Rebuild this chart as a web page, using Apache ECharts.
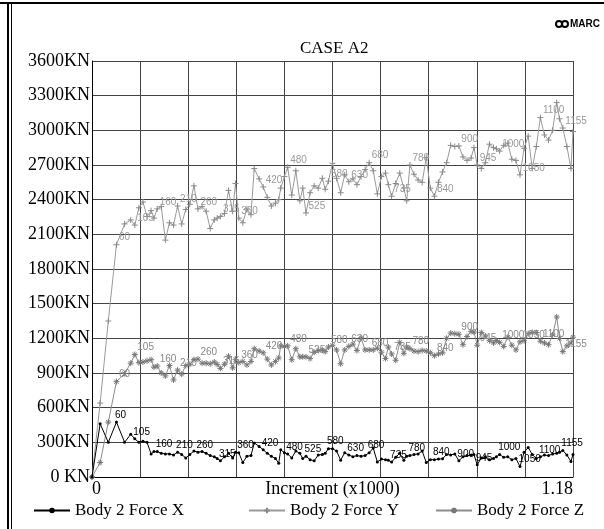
<!DOCTYPE html>
<html>
<head>
<meta charset="utf-8">
<script src="https://cdn.jsdelivr.net/npm/echarts@6/dist/echarts.min.js"></script>
<style>
html, body { margin: 0; padding: 0; background: #fff; }
#chart { width: 604px; height: 529px; }
</style>
</head>
<body>
<div id="chart"></div>
<script>
// increment numbers of the plotted points (x axis shows increment / 1000)
var increments = [
  0, 20, 40, 60, 80, 95, 105, 115, 125, 135,
  145, 152, 160, 170, 180, 190, 200, 210, 220, 230,
  240, 250, 260, 270, 280, 290, 300, 307, 315, 325,
  335, 345, 352, 360, 370, 380, 390, 398, 410, 420,
  430, 440, 450, 458, 463, 472, 480, 490, 500, 510,
  517, 525, 535, 545, 555, 565, 572, 580, 590, 600,
  610, 620, 630, 640, 650, 660, 670, 680, 690, 700,
  710, 720, 727, 735, 745, 755, 765, 772, 780, 790,
  800, 810, 820, 830, 840, 850, 860, 870, 880, 890,
  900, 910, 920, 930, 937, 945, 955, 965, 975, 985,
  992, 1000, 1010, 1020, 1030, 1040, 1050, 1060, 1070, 1080,
  1090, 1100, 1110, 1120, 1130, 1140, 1147, 1155, 1165, 1175,
  1180
];

var forceX = [
  0, 460, 300, 475, 300, 370, 330, 300, 310, 300,
  200, 220, 220, 205, 200, 200, 190, 215, 195, 165,
  195, 225, 215, 220, 205, 185, 175, 160, 140, 175,
  205, 165, 215, 210, 125, 180, 185, 295, 265, 235,
  205, 180, 160, 120, 235, 210, 200, 165, 225, 205,
  160, 180, 150, 140, 190, 195, 205, 245, 245, 225,
  145, 210, 190, 176, 185, 180, 185, 210, 250, 130,
  155, 150, 145, 130, 170, 205, 145, 180, 185, 195,
  200, 225, 125, 150, 150, 155, 158, 195, 190, 200,
  140, 175, 185, 190, 195, 105, 165, 175, 150, 160,
  175, 195, 170, 175, 150, 160, 90, 215, 255, 195,
  160, 175, 190, 185, 200, 205, 215, 230, 190, 135,
  195
];

var forceY = [
  0, 640, 1350, 2010, 2190, 2225, 2180, 2330, 2380, 2255,
  2305, 2240, 2320, 2340, 2050, 2200, 2180, 2345, 2190, 2315,
  2360, 2520, 2320, 2340, 2300, 2150, 2225, 2240, 2255, 2280,
  2480, 2300, 2540, 2240, 2200, 2320, 2270, 2670, 2580, 2510,
  2420, 2345, 2370, 2400, 2500, 2600, 2680, 2440, 2650, 2390,
  2500, 2285, 2460, 2520, 2500, 2585, 2490, 2560, 2715, 2585,
  2460, 2615, 2555, 2580, 2530, 2600, 2660, 2720, 2650, 2450,
  2600, 2630, 2530, 2430, 2540, 2630, 2500, 2390, 2700, 2620,
  2570, 2550, 2765, 2500, 2430, 2550, 2640, 2720, 2870, 2860,
  2865, 2770, 2740, 2760, 2850, 2700, 2670, 2720, 2880, 2850,
  2840, 2820, 2870, 2890, 2750, 2740, 2615, 2845, 2950, 2670,
  2860, 3110, 2960, 2915, 3000, 3240, 3100, 3020, 2860, 2670,
  2990
];

var forceZ = [
  0, 125, 475, 825, 895, 985, 1060, 990, 995, 1005,
  1015, 950, 960, 900, 875, 965, 840, 925, 890, 965,
  975, 1015, 1020, 985, 985, 980, 995, 975, 940, 975,
  1045, 945, 1015, 990, 1000, 970, 1000, 1110, 1090, 1075,
  1020, 970, 1000, 1030, 1135, 1130, 1135, 1015, 1110, 1040,
  1040, 1040, 1025, 1080, 1095, 1100, 1085, 1125, 1140, 1100,
  980, 1100, 1130, 1150, 1095, 1205, 1100, 1100, 1100, 1115,
  1080, 1025, 1125, 1065, 1010, 1165, 1070, 1125, 1110, 1090,
  1085, 1095, 1090, 1075, 1050, 1065, 1075, 1200, 1245, 1240,
  1235, 1145, 1215, 1260, 1255, 1140, 1250, 1220, 1180, 1160,
  1180, 1165, 1130, 1210, 1140, 1100, 1170, 1180, 1240, 1250,
  1250, 1175, 1160, 1145, 1230, 1385, 1200, 1085, 1135, 1160,
  1210
];

// increments that carry a number label on the curves
var labelIncrements = [60, 105, 160, 210, 260, 315, 360, 420, 480, 525, 580,
  630, 680, 735, 780, 840, 900, 945, 1000, 1050, 1100, 1155];

var seriesNames = ['Body 2 Force X', 'Body 2 Force Y', 'Body 2 Force Z'];

var serif = 'Liberation Serif';

function buildData(values) {
  return increments.map(function (inc, i) {
    return {
      value: [inc, values[i]],
      label: { show: labelIncrements.indexOf(inc) >= 0 }
    };
  });
}

function pointLabel(color) {
  return {
    color: color,
    fontFamily: 'Liberation Sans',
    fontSize: 10,
    position: 'right',
    distance: 0,
    offset: [-3, -7],
    formatter: function (p) { return p.value[0]; }
  };
}

var plusPath = 'path://M0,5L10,5M5,0L5,10';
var starPath = 'path://M0,5L10,5M5,0L5,10M1.5,1.5L8.5,8.5M8.5,1.5L1.5,8.5';

var chart = echarts.init(document.getElementById('chart'));

var legendBase = {
  orient: 'horizontal',
  top: 497,
  itemWidth: 36,
  itemHeight: 7,
  itemGap: 6,
  textStyle: { fontFamily: serif, fontSize: 17, color: '#000' }
};

var option = {
  animation: false,
  backgroundColor: '#fff',
  title: {
    text: 'CASE A2',
    left: 295,
    top: 35,
    textStyle: { fontFamily: serif, fontSize: 17, fontWeight: 'normal', color: '#000' }
  },
  legend: [
    Object.assign({}, legendBase, { data: [seriesNames[0]], left: 28 }),
    Object.assign({}, legendBase, { data: [seriesNames[1]], left: 243 }),
    Object.assign({}, legendBase, { data: [seriesNames[2]], left: 430 })
  ],
  grid: { left: 92, right: 31, top: 61, bottom: 52 },
  xAxis: {
    type: 'value',
    min: 0,
    max: 1180,
    interval: 118,
    name: 'Increment (x1000)',
    nameLocation: 'middle',
    nameGap: 3,
    nameMoveOverlap: false,
    nameTextStyle: { fontFamily: serif, fontSize: 18, color: '#000', verticalAlign: 'top' },
    axisLine: { show: true, lineStyle: { color: '#000', width: 1 } },
    axisTick: { show: false },
    splitLine: { show: true, lineStyle: { color: '#444', width: 1 } },
    axisLabel: {
      margin: 3,
      fontFamily: serif,
      fontSize: 18,
      color: '#000',
      alignMinLabel: 'left',
      alignMaxLabel: 'right',
      formatter: function (v) {
        if (v === 0) return '0';
        if (v === 1180) return '1.18';
        return '';
      }
    }
  },
  yAxis: {
    type: 'value',
    min: 0,
    max: 3600,
    interval: 300,
    axisLine: { show: true, lineStyle: { color: '#000', width: 1 } },
    axisTick: { show: false },
    splitLine: { show: true, lineStyle: { color: '#444', width: 1 } },
    axisLabel: {
      margin: 2,
      fontFamily: serif,
      fontSize: 18,
      color: '#000',
      formatter: function (v) { return v === 0 ? '0 KN' : v + 'KN'; }
    }
  },
  graphic: [
    { type: 'rect', shape: { x: 0, y: 2, width: 604, height: 2 }, style: { fill: '#000' } },
    { type: 'rect', shape: { x: 7, y: 2, width: 2, height: 527 }, style: { fill: '#000' } },
    { type: 'rect', shape: { x: 11, y: 2, width: 1, height: 527 }, style: { fill: '#000' } },
    { type: 'circle', shape: { cx: 559, cy: 24, r: 3 }, style: { fill: 'none', stroke: '#000', lineWidth: 2 } },
    { type: 'circle', shape: { cx: 565, cy: 24, r: 3 }, style: { fill: 'none', stroke: '#000', lineWidth: 2 } },
    { type: 'text', x: 570, y: 19, style: { text: 'MARC', font: 'bold 10px "Liberation Sans"', fill: '#000' } }
  ],
  series: [
    {
      name: seriesNames[1],
      type: 'line',
      data: buildData(forceY),
      symbol: plusPath,
      symbolSize: 6,
      lineStyle: { color: '#9a9a9a', width: 1 },
      itemStyle: { color: 'none', borderColor: '#8a8a8a', borderWidth: 1 },
      label: pointLabel('#999'),
      emphasis: { disabled: true },
      z: 2
    },
    {
      name: seriesNames[2],
      type: 'line',
      data: buildData(forceZ),
      symbol: starPath,
      symbolSize: 6,
      lineStyle: { color: '#8c8c8c', width: 1 },
      itemStyle: { color: 'none', borderColor: '#777', borderWidth: 1 },
      label: pointLabel('#888'),
      emphasis: { disabled: true },
      z: 2
    },
    {
      name: seriesNames[0],
      type: 'line',
      data: buildData(forceX),
      symbol: 'circle',
      symbolSize: 3,
      lineStyle: { color: '#000', width: 1 },
      itemStyle: { color: '#000' },
      label: pointLabel('#000'),
      emphasis: { disabled: true },
      z: 3
    }
  ]
};

chart.setOption(option);
</script>
</body>
</html>
